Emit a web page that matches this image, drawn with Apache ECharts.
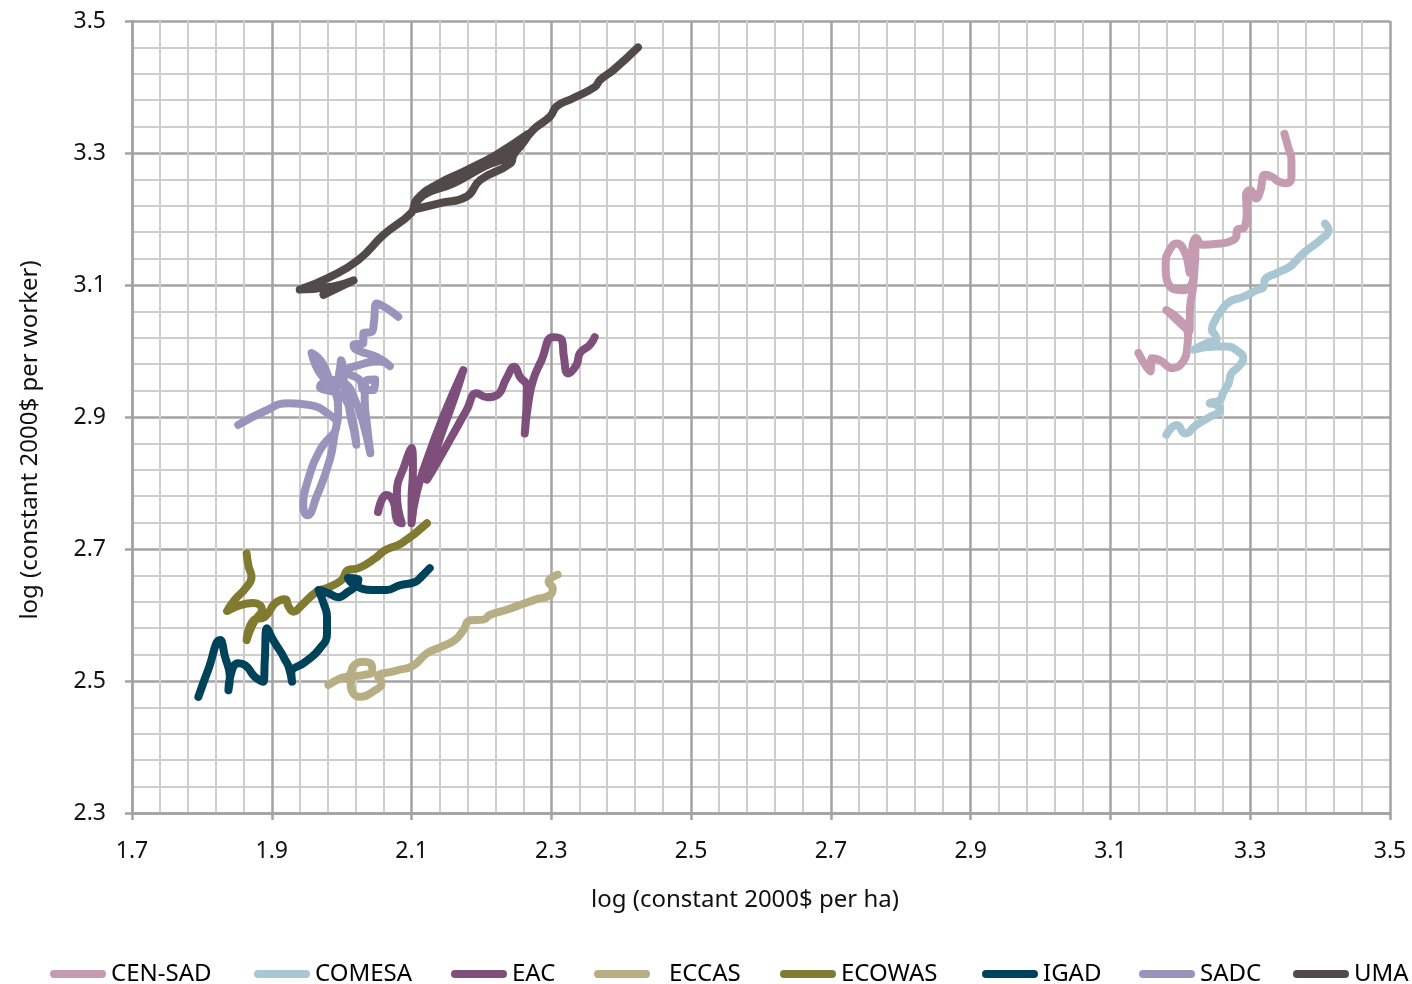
<!DOCTYPE html>
<html><head><meta charset="utf-8">
<script src="https://cdn.jsdelivr.net/npm/echarts@6/dist/echarts.min.js"></script>
<style>html,body{margin:0;padding:0;background:#fff}#chart{width:1412px;height:984px}</style>
</head><body><div id="chart"></div>
<script>
// Region names (legend order)
const REGIONS = ['CEN-SAD','COMESA','EAC','ECCAS','ECOWAS','IGAD','SADC','UMA'];
const COLORS = ['#C49BB0','#A9C6D3','#7F4F7C','#B8AE83','#817A31','#00425A','#9A94BD','#524A48'];

// [log land productivity, log labour productivity] paths, in time order
const CEN_SAD = [[3.140,2.997],[3.157,2.969],[3.159,2.989],[3.171,2.986],[3.188,2.974],[3.204,2.984],[3.210,3.007],[3.211,3.024],[3.180,3.062],[3.195,3.047],[3.213,3.029],[3.214,3.067],[3.218,3.095],[3.221,3.138],[3.222,3.171],[3.219,3.113],[3.204,3.092],[3.188,3.095],[3.179,3.133],[3.183,3.150],[3.195,3.163],[3.207,3.148],[3.214,3.118],[3.216,3.148],[3.223,3.171],[3.231,3.161],[3.257,3.163],[3.271,3.166],[3.280,3.173],[3.281,3.183],[3.292,3.188],[3.295,3.209],[3.294,3.236],[3.300,3.244],[3.308,3.231],[3.314,3.241],[3.321,3.267],[3.331,3.264],[3.340,3.257],[3.352,3.254],[3.359,3.264],[3.359,3.289],[3.354,3.310],[3.349,3.329]];
const COMESA = [[3.180,2.873],[3.195,2.888],[3.207,2.875],[3.223,2.888],[3.242,2.900],[3.257,2.911],[3.252,2.918],[3.242,2.921],[3.257,2.926],[3.261,2.936],[3.269,2.951],[3.273,2.966],[3.283,2.976],[3.290,2.989],[3.283,2.999],[3.266,3.007],[3.250,3.007],[3.219,3.002],[3.238,3.012],[3.252,3.017],[3.250,3.024],[3.245,3.032],[3.250,3.047],[3.259,3.062],[3.271,3.075],[3.290,3.082],[3.309,3.092],[3.319,3.097],[3.321,3.108],[3.338,3.118],[3.357,3.128],[3.364,3.135],[3.376,3.148],[3.388,3.158],[3.400,3.168],[3.412,3.183],[3.407,3.193]];
const EAC = [[2.052,2.756],[2.064,2.782],[2.074,2.772],[2.079,2.744],[2.086,2.739],[2.079,2.784],[2.091,2.830],[2.100,2.853],[2.102,2.820],[2.100,2.774],[2.100,2.739],[2.107,2.784],[2.122,2.835],[2.145,2.900],[2.174,2.971],[2.162,2.931],[2.143,2.875],[2.129,2.830],[2.122,2.805],[2.136,2.830],[2.160,2.875],[2.179,2.911],[2.193,2.936],[2.208,2.930],[2.222,2.933],[2.236,2.959],[2.247,2.976],[2.255,2.961],[2.265,2.946],[2.262,2.875],[2.267,2.921],[2.274,2.956],[2.286,2.986],[2.302,3.021],[2.315,3.017],[2.318,2.991],[2.324,2.966],[2.336,2.979],[2.341,2.997],[2.355,3.009],[2.362,3.021]];
const ECCAS = [[1.981,2.494],[1.998,2.504],[2.011,2.509],[2.017,2.523],[2.031,2.529],[2.043,2.524],[2.044,2.514],[2.031,2.509],[2.017,2.506],[2.013,2.494],[2.026,2.476],[2.048,2.486],[2.057,2.497],[2.052,2.506],[2.079,2.516],[2.102,2.523],[2.122,2.542],[2.141,2.551],[2.162,2.562],[2.174,2.577],[2.184,2.592],[2.203,2.593],[2.212,2.600],[2.236,2.608],[2.260,2.617],[2.279,2.624],[2.298,2.630],[2.302,2.640],[2.296,2.650],[2.309,2.661]];
const ECOWAS = [[1.864,2.693],[1.867,2.673],[1.871,2.658],[1.862,2.640],[1.847,2.623],[1.836,2.606],[1.855,2.615],[1.874,2.618],[1.886,2.608],[1.876,2.592],[1.869,2.577],[1.864,2.562],[1.874,2.592],[1.890,2.597],[1.905,2.618],[1.919,2.624],[1.924,2.613],[1.931,2.605],[1.943,2.615],[1.964,2.635],[1.981,2.642],[2.000,2.653],[2.009,2.668],[2.024,2.671],[2.048,2.686],[2.062,2.698],[2.086,2.709],[2.122,2.739]];
const IGAD = [[1.795,2.476],[1.809,2.517],[1.826,2.562],[1.833,2.537],[1.840,2.506],[1.838,2.486],[1.840,2.504],[1.852,2.527],[1.862,2.524],[1.876,2.506],[1.888,2.499],[1.890,2.532],[1.893,2.580],[1.902,2.562],[1.914,2.542],[1.919,2.532],[1.924,2.522],[1.929,2.499],[1.928,2.512],[1.948,2.529],[1.967,2.547],[1.979,2.572],[1.979,2.597],[1.974,2.618],[1.967,2.638],[1.981,2.633],[1.995,2.627],[2.009,2.635],[2.021,2.645],[2.024,2.654],[2.009,2.656],[2.019,2.645],[2.043,2.638],[2.064,2.638],[2.083,2.645],[2.105,2.650],[2.114,2.658],[2.126,2.671]];
const SADC = [[1.852,2.888],[1.888,2.908],[1.924,2.921],[1.955,2.918],[1.983,2.903],[1.993,2.890],[1.969,2.850],[1.952,2.805],[1.945,2.764],[1.951,2.751],[1.964,2.779],[1.983,2.835],[1.990,2.875],[1.995,2.906],[1.990,2.941],[1.969,2.966],[1.957,2.997],[1.971,2.984],[1.983,2.956],[1.990,2.941],[1.998,2.976],[1.999,2.986],[2.005,2.941],[2.017,2.890],[2.021,2.858],[2.014,2.895],[2.002,2.931],[1.969,2.946],[1.988,2.956],[2.005,2.951],[2.021,2.921],[2.031,2.890],[2.041,2.845],[2.036,2.890],[2.033,2.926],[2.036,2.956],[2.048,2.957],[2.046,2.941],[2.032,2.941],[2.026,2.956],[2.007,2.969],[2.026,2.979],[2.055,2.984],[2.069,2.977],[2.050,2.991],[2.021,3.002],[2.017,3.009],[2.031,3.012],[2.031,3.027],[2.043,3.029],[2.046,3.042],[2.050,3.072],[2.064,3.065],[2.081,3.052]];
const UMA = [[1.974,3.085],[2.017,3.107],[1.988,3.098],[1.940,3.093],[1.983,3.112],[2.024,3.138],[2.060,3.176],[2.100,3.210],[2.107,3.229],[2.136,3.252],[2.179,3.274],[2.222,3.298],[2.267,3.329],[2.246,3.297],[2.241,3.284],[2.198,3.259],[2.179,3.234],[2.141,3.224],[2.102,3.214],[2.117,3.236],[2.160,3.254],[2.203,3.279],[2.246,3.300],[2.274,3.335],[2.298,3.355],[2.308,3.371],[2.331,3.383],[2.362,3.400],[2.370,3.411],[2.389,3.426],[2.424,3.460]];

// Axis ranges / ticks
const X_MIN = 1.7, X_MAX = 3.5, X_STEP = 0.2;
const Y_MIN = 2.3, Y_MAX = 3.5, Y_STEP = 0.2;
const X_TITLE = 'log (constant 2000$ per ha)';
const Y_TITLE = 'log (constant 2000$ per worker)';

const PATHS = [CEN_SAD, COMESA, EAC, ECCAS, ECOWAS, IGAD, SADC, UMA];
const LEGEND_LEFT = [45, 249, 446, 589, 775, 977, 1134, 1288];

// Axes are expressed as offsets from their minimum so ticks start exactly at 1.7 / 2.3
const FONT = 'Noto Sans';
const gridColorMajor = '#a3a3a3', gridColorMinor = '#cdcdcd';

function axisCommon(step, base){
  return {
    type:'value', interval: step,
    axisLine:{show:true, lineStyle:{color:gridColorMajor, width:2.5}},
    axisTick:{show:true, inside:false, length:7, lineStyle:{color:gridColorMajor, width:2.5}},
    minorTick:{show:false, splitNumber:5},
    splitLine:{show:true, lineStyle:{color:gridColorMajor, width:2.5}},
    minorSplitLine:{show:true, lineStyle:{color:gridColorMinor, width:2}},
    axisLabel:{color:'#111', fontFamily:FONT, fontSize:23, formatter:v => (v + base).toFixed(1)},
    nameTextStyle:{color:'#111', fontFamily:FONT, fontSize:24}
  };
}

const chart = echarts.init(document.getElementById('chart'), null, {renderer:'canvas'});
const xAxis = Object.assign(axisCommon(X_STEP, X_MIN), {
  min:0, max:+(X_MAX - X_MIN).toFixed(6), name:X_TITLE, nameLocation:'middle', nameGap:75
});
xAxis.axisLabel.margin = 27;
xAxis.nameTextStyle.padding = [0, 32, 0, 0];
const yAxis = Object.assign(axisCommon(Y_STEP, Y_MIN), {
  min:0, max:+(Y_MAX - Y_MIN).toFixed(6), name:Y_TITLE, nameLocation:'middle', nameGap:90
});
yAxis.axisLabel.margin = 26;
yAxis.nameTextStyle.padding = [0, 46, 0, 0];

const PILL = 'path://M4,0 H52 A4,4 0 0 1 52,8 H4 A4,4 0 0 1 4,0 Z';

const option = {
  animation:false,
  backgroundColor:'#fff',
  grid:{left:132, right:22, top:21, bottom:171, containLabel:false},
  xAxis, yAxis,
  legend: REGIONS.map((r,i) => ({
    data:[r], left:LEGEND_LEFT[i], top:957, icon:PILL, itemWidth:56, itemHeight:8, itemGap:0,
    textStyle:{color:'#000', fontFamily:FONT, fontSize:24, padding: r === 'ECCAS' ? [0,0,0,14] : [0,0,0,0]}
  })),
  series: REGIONS.map((r,i) => ({
    name:r, type:'line', showSymbol:false, symbol:'none', smooth:0.5,
    color:COLORS[i],
    lineStyle:{width:8, color:COLORS[i], cap:'round', join:'round'},
    data: PATHS[i].map(([x,y]) => [x - X_MIN, y - Y_MIN]),
    z: 2 + i
  }))
};
chart.setOption(option);
</script></body></html>
